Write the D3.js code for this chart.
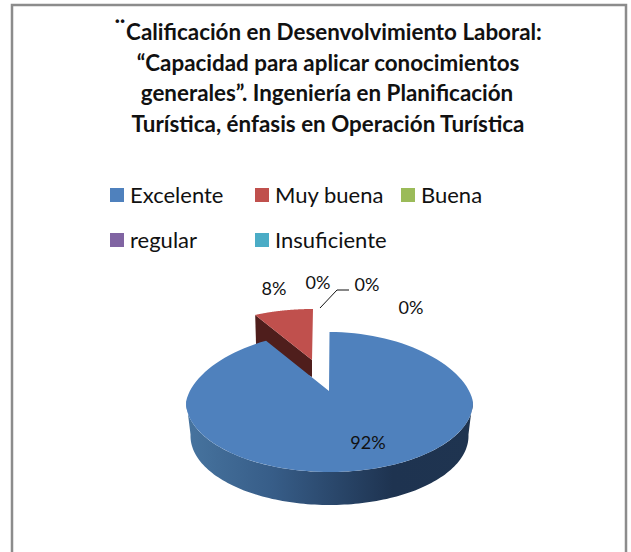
<!DOCTYPE html>
<html>
<head>
<meta charset="utf-8">
<script src="https://cdn.jsdelivr.net/npm/d3@7"></script>
<style>
  html, body { margin: 0; padding: 0; background: #fff; }
  svg { display: block; }
  text { font-family: Lato, "Open Sans", sans-serif; fill: #111; }
</style>
</head>
<body>
<svg width="631" height="552"></svg>
<script>
const categories = ['Excelente', 'Muy buena', 'Buena', 'regular', 'Insuficiente']
const values = [92, 8, 0, 0, 0]
const colors = ['#4f81bd', '#c0504d', '#9bbb59', '#8064a2', '#4bacc6']
const titleLines = [
  'Calificación en Desenvolvimiento Laboral:',
  '“Capacidad para aplicar conocimientos',
  'generales”. Ingeniería en Planificación',
  'Turística, énfasis en Operación Turística'
]

const svg = d3.select('svg')
const defs = svg.append('defs')
const line = d3.line()

// frame, the crop cuts off its bottom edge
svg.append('path')
  .attr('d', line([[12, 552], [12, 5], [626, 5], [626, 552]]))
  .attr('fill', 'none')
  .attr('stroke', '#8c8c8c')
  .attr('stroke-width', 2.5)

// title
const titleX = [334, 328, 327, 328]
svg.append('g').selectAll('text')
  .data(titleLines)
  .enter().append('text')
  .attr('x', (d, i) => titleX[i])
  .attr('y', (d, i) => 40 + i * 30.5)
  .attr('text-anchor', 'middle')
  .attr('font-size', 22.4)
  .attr('font-weight', 700)
  .text(d => d)

svg.append('text')
  .attr('x', 120).attr('y', 39)
  .attr('text-anchor', 'middle')
  .attr('font-size', 26)
  .attr('font-weight', 700)
  .text('¨')

// legend
const legendX = [110, 255, 401, 110, 255]
const legendY = [195, 195, 195, 240, 240]
const legend = svg.append('g').selectAll('g')
  .data(categories)
  .enter().append('g')
  .attr('transform', (d, i) => `translate(${legendX[i]},${legendY[i]})`)

legend.append('rect')
  .attr('x', 0).attr('y', -7)
  .attr('width', 14).attr('height', 14)
  .attr('fill', (d, i) => colors[i])

legend.append('text')
  .attr('x', 20).attr('y', 8)
  .attr('font-size', 22)
  .text(d => d)

// pie, the 3d look is an ellipse rim plus a side wall
const arcs = d3.pie().value(d => d).sort(null)(values)
const blue = arcs[0]
const red = arcs[1]

// taper pulls the back of the rim in, like the perspective of the original
const rim = (p, a) => [
  p.cx + p.rx * Math.sin(a) * (1 - p.taper * Math.max(0, Math.cos(a))),
  p.cy - p.ry * Math.cos(a)
]
const rimPoints = (p, a0, a1) => d3.range(0, 121).map(i => rim(p, a0 + (a1 - a0) * i / 120))

const bluePie = { cx: 329.5, cy: 402, rx: 143.5, ry: 70, taper: 0.094, ax: 329, ay: 391 }
const blueLow = { cx: 329.5, cy: 436, rx: 139, ry: 69, taper: 0 }
const redPie = { cx: 313, cy: 357, rx: 120, ry: 48, taper: 0, ax: 312, ay: 360, depth: 17 }

// gradient of the side wall
const grad = defs.append('linearGradient')
  .attr('id', 'wall')
  .attr('gradientUnits', 'userSpaceOnUse')
  .attr('x1', bluePie.cx - bluePie.rx).attr('x2', bluePie.cx + bluePie.rx)
  .attr('y1', 0).attr('y2', 0)
grad.append('stop').attr('offset', 0).attr('stop-color', '#47749f')
grad.append('stop').attr('offset', 0.3).attr('stop-color', '#375d88')
grad.append('stop').attr('offset', 0.72).attr('stop-color', '#1e3350')
grad.append('stop').attr('offset', 1).attr('stop-color', '#1f3450')

const pieG = svg.append('g')

// red slice wall, the wall sits on the cut edge towards the centre
const redLeft = rim(redPie, red.startAngle)
pieG.append('path')
  .attr('d', line([
    redLeft,
    [redPie.ax, redPie.ay],
    [redPie.ax, redPie.ay + redPie.depth],
    [redLeft[0] + 1, redLeft[1] + 35]
  ]) + 'Z')
  .attr('fill', '#4f1e1c')

pieG.append('path')
  .attr('d', line([[redPie.ax, redPie.ay]].concat(rimPoints(redPie, red.startAngle, red.endAngle))) + 'Z')
  .attr('fill', colors[1])

// blue side wall, only the front half of the rim
const front = rimPoints(bluePie, Math.PI / 2 - 0.02, 3 * Math.PI / 2 + 0.02)
const frontLow = rimPoints(blueLow, Math.PI / 2 - 0.02, 3 * Math.PI / 2 + 0.02).reverse()
pieG.append('path')
  .attr('d', line(front.concat(frontLow)) + 'Z')
  .attr('fill', 'url(#wall)')

pieG.append('path')
  .attr('d', line([[bluePie.ax, bluePie.ay]].concat(rimPoints(bluePie, blue.startAngle, blue.endAngle))) + 'Z')
  .attr('fill', colors[0])

// data labels
const labelText = values.map(d => d + '%')
const labelX = [368, 274, 318, 367, 411]
const labelY = [449, 295, 289, 291, 314]
svg.append('g').selectAll('text')
  .data(labelText)
  .enter().append('text')
  .attr('x', (d, i) => labelX[i])
  .attr('y', (d, i) => labelY[i])
  .attr('text-anchor', 'middle')
  .attr('font-size', 18)
  .text(d => d)

svg.append('path')
  .attr('d', line([[320, 308], [337, 290], [349, 290]]))
  .attr('fill', 'none')
  .attr('stroke', '#111')
  .attr('stroke-width', 1)
</script>
</body>
</html>
